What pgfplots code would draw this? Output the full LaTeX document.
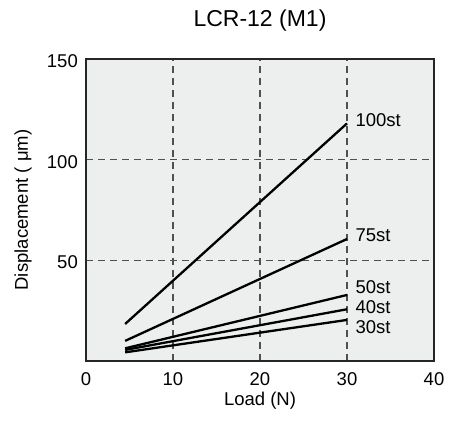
\documentclass[border=0pt]{standalone}
\usepackage{pgfplots}
\pgfplotsset{compat=1.18}
\usepackage{fontspec}
\setmainfont{Liberation Sans}
\definecolor{bgc}{HTML}{EDEEEE}
\definecolor{gridc}{HTML}{505050}
\newcommand{\lblfont}{\fontsize{18.5bp}{20bp}\selectfont}
\begin{document}
\begin{tikzpicture}
\begin{axis}[
  scale only axis,
  width=348bp, height=302bp,
  xmin=0, xmax=40, ymin=0, ymax=150,
  xtick={0,10,20,30,40},
  ytick={50,100,150},
  major tick length=0pt,
  grid=major,
  major grid style={gridc, line width=1.3bp, dash pattern=on 7bp off 5bp},
  axis background/.style={fill=bgc},
  axis line style={line width=1.5bp, black!85},
  /pgf/number format/assume math mode=true,
  tick label style={font=\lblfont, inner sep=0pt},
  xticklabel style={anchor=base, yshift=-24bp},
  yticklabel style={anchor=base east, xshift=-8bp, yshift=-8.5bp},
  label style={font=\lblfont, inner sep=0pt},
  xlabel={Load (N)},
  ylabel={Displacement ( μm)},
  xlabel style={at={(axis description cs:0.5,-0.146)}, anchor=base},
  ylabel style={at={(axis description cs:-0.1667,0.5)}, anchor=base},
  title={LCR-12 (M1)},
  title style={font=\fontsize{23bp}{25bp}\selectfont, inner sep=0pt, at={(axis description cs:0.5,1.087)}, anchor=base},
  clip=false,
]
\addplot[black, line width=2.3bp] coordinates {(4.5,18.4) (30,118)};
\addplot[black, line width=2.3bp] coordinates {(4.5,10) (30,60.6)};
\addplot[black, line width=2.3bp] coordinates {(4.5,6.3) (30,32.8)};
\addplot[black, line width=2.3bp] coordinates {(4.5,5.5) (30,25.7)};
\addplot[black, line width=2.3bp] coordinates {(4.5,4.3) (30,20.4)};
\node[anchor=west, inner sep=0pt, font=\lblfont] at (axis cs:30.97,119.4) {100st};
\node[anchor=west, inner sep=0pt, font=\lblfont] at (axis cs:30.97,62.6) {75st};
\node[anchor=west, inner sep=0pt, font=\lblfont] at (axis cs:30.97,36.9) {50st};
\node[anchor=west, inner sep=0pt, font=\lblfont] at (axis cs:30.97,27) {40st};
\node[anchor=west, inner sep=0pt, font=\lblfont] at (axis cs:30.97,17) {30st};
\end{axis}
\useasboundingbox ([xshift=-86bp,yshift=-60bp]current axis.south west) rectangle ([xshift=19bp,yshift=59bp]current axis.north east);
\end{tikzpicture}
\end{document}
